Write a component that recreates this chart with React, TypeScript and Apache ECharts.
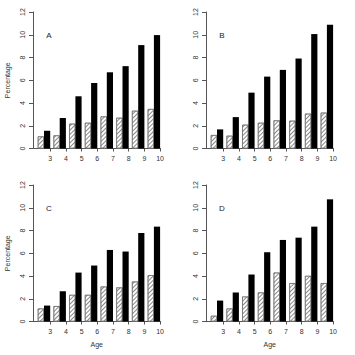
import React, { useEffect, useRef } from "react";
import * as echarts from "echarts";

const ages = ["3", "4", "5", "6", "7", "8", "9", "10"];
const ageTicks = [3, 4, 5, 6, 7, 8, 9, 10];
const panelLetters = ["A", "B", "C", "D"];

const hatchedA = [1.06, 1.15, 2.18, 2.26, 2.82, 2.7, 3.32, 3.47];
const blackA = [1.56, 2.68, 4.59, 5.76, 6.7, 7.24, 9.09, 9.97];
const hatchedB = [1.18, 1.12, 2.09, 2.26, 2.47, 2.44, 3.06, 3.15];
const blackB = [1.68, 2.76, 4.91, 6.32, 6.91, 7.91, 10.06, 10.88];
const hatchedC = [1.14, 1.35, 2.34, 2.34, 3.07, 2.99, 3.51, 4.07];
const blackC = [1.4, 2.66, 4.3, 4.92, 6.29, 6.15, 7.78, 8.34];
const hatchedD = [0.5, 1.14, 2.19, 2.55, 4.3, 3.37, 4.01, 3.37];
const blackD = [1.84, 2.55, 4.13, 6.09, 7.17, 7.37, 8.34, 10.74];

const hatchedSets = [hatchedA, hatchedB, hatchedC, hatchedD];
const blackSets = [blackA, blackB, blackC, blackD];

const yMin = 0;
const yMax = 12;
const yInterval = 2;

export default function App() {
  const ref = useRef<HTMLDivElement>(null);
  useEffect(() => {
    if (!ref.current) return;
    const chart = echarts.init(ref.current, null, { renderer: "svg" });
    const font = "Liberation Sans";
    const txt = "#333";
    const axisCol = "#555";
    const offsets = [
      [0, 0],
      [173, 0],
      [0, 173],
      [173, 173],
    ];
    const AXIS_X = 33;
    const TOP = 12;
    const BOTTOM = 148.5;
    const AXIS_END = 160.5;
    const BAND = 15.7;
    const CENTER3 = 44;
    const BARW = 6.2;
    const grids: any[] = [];
    const xAxes: any[] = [];
    const yAxes: any[] = [];
    const series: any[] = [];
    const graphics: any[] = [];
    offsets.forEach(([ox, oy], p) => {
      const h = BOTTOM - TOP;
      grids.push({
        left: ox + CENTER3 - BAND / 2,
        top: oy + TOP,
        width: BAND * ages.length,
        height: h,
      });
      grids.push({
        left: ox + AXIS_X,
        top: oy + TOP,
        width: AXIS_END - AXIS_X,
        height: h,
      });
      const vmin = 3 - (CENTER3 + BARW - AXIS_X) / BAND;
      const vmax = vmin + (AXIS_END - AXIS_X) / BAND;
      xAxes.push({
        type: "category",
        gridIndex: 2 * p,
        data: ages,
        show: false,
      });
      xAxes.push({
        type: "value",
        gridIndex: 2 * p + 1,
        min: vmin,
        max: vmax,
        axisLine: { show: true, lineStyle: { color: axisCol, width: 1 } },
        axisTick: { show: true, length: 3, customValues: ageTicks, lineStyle: { color: axisCol } },
        axisLabel: {
          customValues: ageTicks,
          fontFamily: font,
          fontSize: 7,
          color: txt,
          margin: 6,
          formatter: (v: number) => String(v),
        },
        splitLine: { show: false },
        name: p >= 2 ? "Age" : "",
        nameLocation: "middle",
        nameGap: 19,
        nameTextStyle: { fontFamily: font, fontSize: 7, color: txt },
      });
      yAxes.push({
        type: "value",
        gridIndex: 2 * p,
        min: yMin,
        max: yMax,
        interval: yInterval,
        show: false,
      });
      yAxes.push({
        type: "value",
        gridIndex: 2 * p + 1,
        min: yMin,
        max: yMax,
        interval: yInterval,
        axisLine: { show: true, lineStyle: { color: axisCol, width: 1 } },
        axisTick: { show: true, length: 4, lineStyle: { color: axisCol } },
        axisLabel: {
          fontFamily: font,
          fontSize: 7,
          color: txt,
          rotate: 90,
          margin: 7,
        },
        splitLine: { show: false },
        name: p % 2 === 0 ? "Percentage" : "",
        nameLocation: "middle",
        nameGap: 22,
        nameTextStyle: { fontFamily: font, fontSize: 7, color: txt },
      });
      series.push({
        type: "bar",
        xAxisIndex: 2 * p,
        yAxisIndex: 2 * p,
        data: hatchedSets[p],
        barWidth: BARW,
        barGap: "0%",
        itemStyle: {
          color: "#fff",
          borderColor: "#666",
          borderWidth: 0.6,
          decal: {
            symbol: "rect",
            symbolSize: 1,
            dashArrayX: [1, 0],
            dashArrayY: [1, 1.4],
            rotation: -Math.PI / 4,
            color: "#888",
          },
        },
      });
      series.push({
        type: "bar",
        xAxisIndex: 2 * p,
        yAxisIndex: 2 * p,
        data: blackSets[p],
        barWidth: BARW,
        barGap: "0%",
        itemStyle: { color: "#000" },
      });
      graphics.push({
        type: "text",
        x: ox + 49,
        y: oy + 35,
        style: {
          text: panelLetters[p],
          fontFamily: font,
          fontSize: 8,
          fill: "#222",
          align: "center",
          verticalAlign: "middle",
        },
      });
    });
    chart.setOption({
      animation: false,
      backgroundColor: "#fff",
      grid: grids,
      xAxis: xAxes,
      yAxis: yAxes,
      series,
      graphic: graphics,
    });
    return () => chart.dispose();
  }, []);
  return (
    <div
      ref={ref}
      style={{ position: "absolute", left: 0, top: 0, width: 355, height: 355 }}
    />
  );
}
